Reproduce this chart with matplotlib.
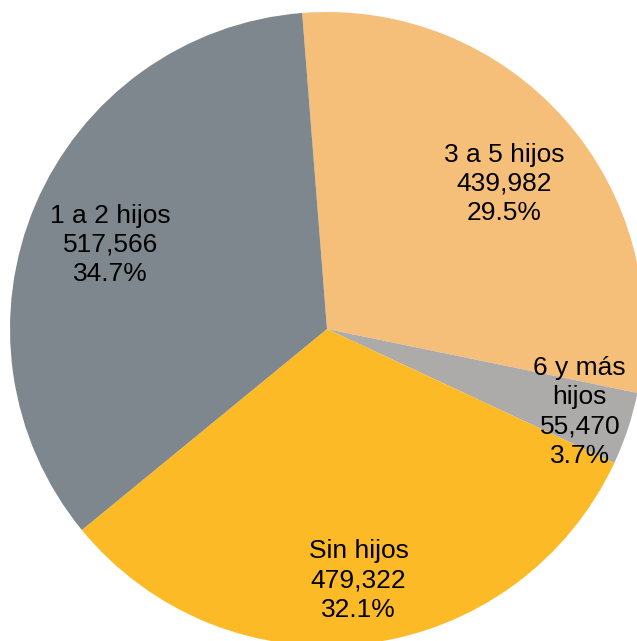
import matplotlib
matplotlib.use("Agg")
import matplotlib.pyplot as plt
import numpy as np

categories = ["3 a 5 hijos", "6 y más\nhijos", "Sin hijos", "1 a 2 hijos"]
values = [439982, 55470, 479322, 517566]
colors = ["#F6BF79", "#ADAAAA", "#FBBA26", "#7E878D"]
label_radii = [0.72, 0.84, 0.80, 0.735]
label_nudge = [(0.019, -0.019), (0.0, 0.003), (0.0, 0.0), (-0.006, -0.023)]

W, H = 637, 641
cx, cy, R = 327, 329, 317

fig = plt.figure(figsize=(W / 100, H / 100), dpi=100)
ax = fig.add_axes([0, 0, 1, 1])
wedges, _ = ax.pie(values, colors=colors, startangle=94.5, counterclock=False,
                   radius=1.0, center=(0, 0), wedgeprops=dict(linewidth=0))
ax.set_aspect("auto")
ax.set_xlim(-cx / R, (W - cx) / R)
ax.set_ylim(-(H - cy) / R, cy / R)
ax.axis("off")

total = sum(values)
for w, cat, v, r, (nx, ny) in zip(wedges, categories, values, label_radii, label_nudge):
    ang = np.deg2rad((w.theta1 + w.theta2) / 2)
    txt = f"{cat}\n{v:,}\n{v / total * 100:.1f}%"
    ax.text(r * np.cos(ang) + nx, r * np.sin(ang) + ny, txt, ha="center", va="center",
            fontsize=19, family="Liberation Sans", linespacing=1.28, color="black")

fig.savefig("out.png", dpi=100)
